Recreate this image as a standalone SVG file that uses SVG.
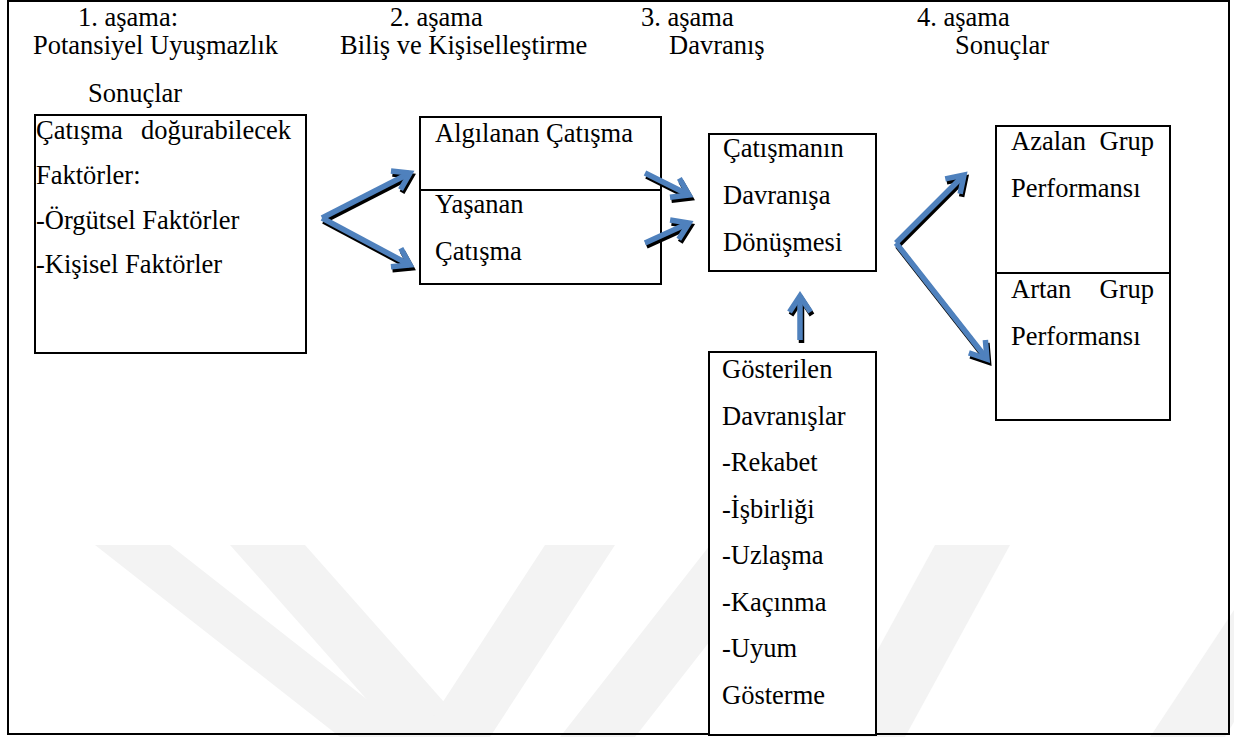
<svg xmlns="http://www.w3.org/2000/svg" xmlns:xlink="http://www.w3.org/1999/xlink" width="1234" height="737" viewBox="0 0 1234 737">
  <style>
    text { font-family: "Liberation Serif", "Times New Roman", serif; font-size: 26.5px; fill: #000; }
    .box { fill: #fff; stroke: #000; stroke-width: 2; }
    .rule { stroke: #000; stroke-width: 2; }
    .wm { fill: #f3f3f3; }
    .sh { stroke: #000; stroke-width: 5.5; fill: none; marker-end: url(#headK); }
    .bl { stroke: #4f81bd; stroke-width: 5.5; fill: none; marker-end: url(#headB); }
  </style>
  <defs>
    <marker id="headK" markerUnits="userSpaceOnUse" orient="auto" viewBox="-30 -20 40 40" markerWidth="40" markerHeight="40" refX="0" refY="0">
      <path d="M-16,-10.5 L0,0 L-16,10.5" fill="none" stroke="#000" stroke-width="5.5"/>
    </marker>
    <marker id="headB" markerUnits="userSpaceOnUse" orient="auto" viewBox="-30 -20 40 40" markerWidth="40" markerHeight="40" refX="0" refY="0">
      <path d="M-16,-10.5 L0,0 L-16,10.5" fill="none" stroke="#4f81bd" stroke-width="5.5"/>
    </marker>
    <path id="a1" d="M322,218 L410,173"/>
    <path id="a2" d="M322,218 L410,265"/>
    <path id="a3" d="M645,173 L689,195"/>
    <path id="a4" d="M645,243 L689,223"/>
    <path id="a5" d="M896,243 L964,175"/>
    <path id="a6" d="M896,243 L987,359"/>
    <path id="a7" d="M800,340 L800,296"/>
  </defs>

  <rect width="1234" height="737" fill="#fff"/>

  <!-- faint background mark -->
  <g id="watermark">
    <polygon class="wm" points="95,545 170,545 415,737 340,737"/>
    <polygon class="wm" points="230,545 305,545 475,737 400,737"/>
    <polygon class="wm" points="420,737 490,737 615,545 545,545"/>
    <polygon class="wm" points="560,737 635,737 785,545 710,545"/>
    <polygon class="wm" points="830,737 905,737 1010,545 935,545"/>
    <polygon class="wm" points="1150,737 1225,737 1234,722 1234,610"/>
  </g>

  <!-- outer frame -->
  <rect x="8" y="1" width="1221" height="733" fill="none" stroke="#000" stroke-width="2"/>

  <!-- stage headings -->
  <g id="stages">
    <text x="78" y="26">1. aşama:</text>
    <text x="33" y="54">Potansiyel Uyuşmazlık</text>
    <text x="88" y="102">Sonuçlar</text>
    <text x="390" y="26">2. aşama</text>
    <text x="340" y="54">Biliş ve Kişiselleştirme</text>
    <text x="641" y="26">3. aşama</text>
    <text x="669" y="54">Davranış</text>
    <text x="917" y="26">4. aşama</text>
    <text x="955" y="54">Sonuçlar</text>
  </g>

  <g id="n-faktorler">
    <rect class="box" x="35" y="115" width="271" height="238"/>
    <text x="36" y="139">Çatışma</text>
    <text x="291" y="139" text-anchor="end">doğurabilecek</text>
    <text x="36" y="184">Faktörler:</text>
    <text x="36" y="229">-Örgütsel Faktörler</text>
    <text x="36" y="273">-Kişisel Faktörler</text>
  </g>

  <g id="n-bilis">
    <rect class="box" x="420" y="117" width="241" height="167"/>
    <line class="rule" x1="420" y1="190" x2="661" y2="190"/>
    <text x="435" y="142">Algılanan Çatışma</text>
    <text x="435" y="213">Yaşanan</text>
    <text x="435" y="260">Çatışma</text>
  </g>

  <g id="n-donusum">
    <rect class="box" x="709" y="134" width="167" height="137"/>
    <text x="723" y="157">Çatışmanın</text>
    <text x="723" y="204">Davranışa</text>
    <text x="723" y="251">Dönüşmesi</text>
  </g>

  <g id="n-davranislar">
    <rect class="box" x="709" y="352" width="167" height="383"/>
    <text x="722" y="378">Gösterilen</text>
    <text x="722" y="424.5">Davranışlar</text>
    <text x="722" y="471">-Rekabet</text>
    <text x="722" y="517.5">-İşbirliği</text>
    <text x="722" y="564">-Uzlaşma</text>
    <text x="722" y="610.5">-Kaçınma</text>
    <text x="722" y="657">-Uyum</text>
    <text x="722" y="703.5">Gösterme</text>
  </g>

  <g id="n-sonuclar">
    <rect class="box" x="996" y="126" width="174" height="294"/>
    <line class="rule" x1="996" y1="273" x2="1170" y2="273"/>
    <text x="1011" y="150">Azalan</text>
    <text x="1154" y="150" text-anchor="end">Grup</text>
    <text x="1011" y="197">Performansı</text>
    <text x="1011" y="298">Artan</text>
    <text x="1154" y="298" text-anchor="end">Grup</text>
    <text x="1011" y="345">Performansı</text>
  </g>

  <!-- connectors: black drop shadow under blue arrow -->
  <g id="connectors">
    <g transform="translate(1.5,3)">
      <use xlink:href="#a1" class="sh"/>
      <use xlink:href="#a2" class="sh"/>
      <use xlink:href="#a3" class="sh"/>
      <use xlink:href="#a4" class="sh"/>
      <use xlink:href="#a5" class="sh"/>
      <use xlink:href="#a6" class="sh"/>
      <use xlink:href="#a7" class="sh"/>
    </g>
    <use xlink:href="#a1" class="bl"/>
    <use xlink:href="#a2" class="bl"/>
    <use xlink:href="#a3" class="bl"/>
    <use xlink:href="#a4" class="bl"/>
    <use xlink:href="#a5" class="bl"/>
    <use xlink:href="#a6" class="bl"/>
    <use xlink:href="#a7" class="bl"/>
  </g>
</svg>
